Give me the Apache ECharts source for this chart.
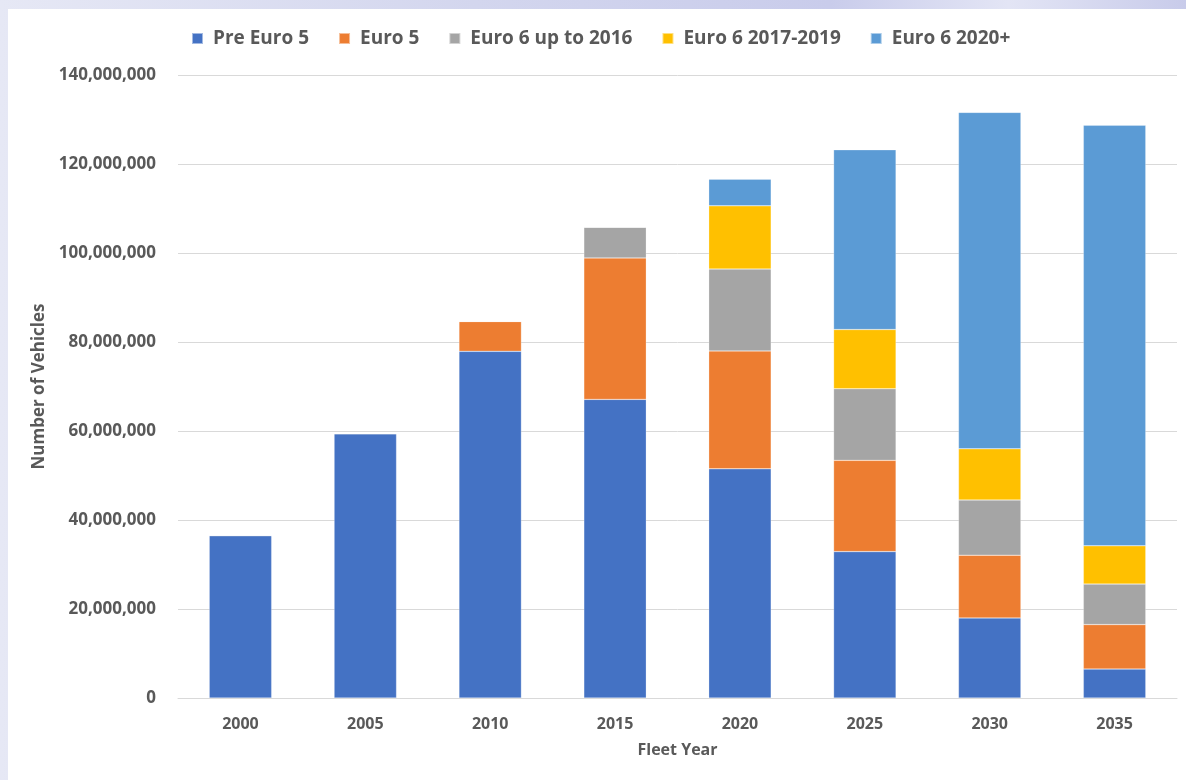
<!DOCTYPE html>
<html>
<head>
<meta charset="utf-8">
<script src="https://cdn.jsdelivr.net/npm/echarts@6/dist/echarts.min.js"></script>
<style>
  html, body { margin: 0; padding: 0; width: 1186px; height: 780px; overflow: hidden;
    background: linear-gradient(90deg, #e6e8f5 0%, #d3d6ee 40%, #c9cceb 70%, #e3e5f5 85%, #c8cbea 100%); }
  #chart { position: absolute; left: 8px; top: 9px; width: 1178px; height: 771px; background: #ffffff; }
</style>
</head>
<body>
<div id="chart"></div>
<script>
const categories = ['2000', '2005', '2010', '2015', '2020', '2025', '2030', '2035'];
const seriesNames = ['Pre Euro 5', 'Euro 5', 'Euro 6 up to 2016', 'Euro 6 2017-2019', 'Euro 6 2020+'];
const preEuro5   = [36500000, 59400000, 77900000, 67100000, 51500000, 32900000, 18000000, 6500000];
const euro5      = [0, 0, 6700000, 31800000, 26500000, 20500000, 14100000, 10000000];
const euro6to2016 = [0, 0, 0, 6900000, 18400000, 16100000, 12400000, 9100000];
const euro6_1719 = [0, 0, 0, 0, 14200000, 13300000, 11500000, 8600000];
const euro6_2020 = [0, 0, 0, 0, 6000000, 40400000, 75600000, 94500000];
const colors = ['#4472C4', '#ED7D31', '#A5A5A5', '#FFC000', '#5B9BD5'];
const yTicks = { min: 0, max: 140000000, interval: 20000000 };

const allData = [preEuro5, euro5, euro6to2016, euro6_1719, euro6_2020];
const font = '"Open Sans", "Liberation Sans", sans-serif';
const textColor = '#595959';

const chart = echarts.init(document.getElementById('chart'));
chart.setOption({
  animation: false,
  color: colors,
  textStyle: { fontFamily: font },
  legend: {
    top: 15,
    left: 178,
    itemWidth: 11,
    itemHeight: 11,
    itemGap: 29,
    icon: 'rect',
    textStyle: { color: textColor, fontSize: 19, fontWeight: 'bold', fontFamily: font, padding: [0, 0, 0, 5] },
    data: seriesNames
  },
  grid: { left: 170, right: 9, top: 66, bottom: 82 },
  xAxis: {
    type: 'category',
    data: categories,
    name: 'Fleet Year',
    nameLocation: 'middle',
    nameGap: 44,
    nameTextStyle: { color: textColor, fontSize: 16, fontWeight: 'bold' },
    axisLine: { lineStyle: { color: '#d9d9d9', width: 1 } },
    axisTick: { show: false },
    axisLabel: { color: textColor, fontSize: 16, fontWeight: 'bold', margin: 18 }
  },
  yAxis: {
    type: 'value',
    min: yTicks.min,
    max: yTicks.max,
    interval: yTicks.interval,
    name: 'Number of Vehicles',
    nameLocation: 'middle',
    nameGap: 125,
    nameRotate: 90,
    nameTextStyle: { color: textColor, fontSize: 17, fontWeight: 'bold' },
    axisLine: { show: false },
    axisTick: { show: false },
    splitLine: { lineStyle: { color: '#d9d9d9', width: 1 } },
    axisLabel: {
      color: textColor, fontSize: 17, fontWeight: 'bold', margin: 22,
      formatter: v => v.toLocaleString('en-US')
    }
  },
  series: seriesNames.map((name, i) => ({
    name: name,
    type: 'bar',
    stack: 'total',
    barWidth: '50%',
    data: allData[i],
    itemStyle: { color: colors[i], borderColor: 'rgba(255,255,255,0.5)', borderWidth: 0.5 }
  }))
});
</script>
</body>
</html>
